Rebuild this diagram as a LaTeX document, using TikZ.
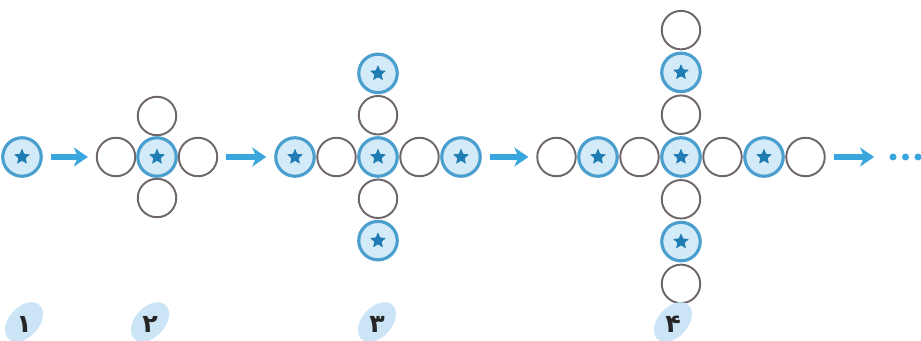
\documentclass[tikz,border=0pt]{standalone}
\usepackage{fontspec}
\newfontfamily\arabicfont[Script=Arabic]{DejaVu Sans}
\usetikzlibrary{arrows.meta}

\definecolor{ringblue}{HTML}{4A9FCF}
\definecolor{ballfill}{HTML}{D3EAF8}
\definecolor{stardark}{HTML}{1F7DB3}
\definecolor{ringgray}{HTML}{6E666A}
\definecolor{arrowblue}{HTML}{3AA6DE}
\definecolor{blobblue}{HTML}{CBE4F6}

\tikzset{
  ball/.style={circle, draw=ringgray, line width=1.1pt, fill=white,
    minimum size=0.77cm, inner sep=0pt},
  starball/.style={ball, draw=ringblue, line width=1.8pt, fill=ballfill,
    path picture={
      \fill[stardark, rounded corners=0.4pt,
        shift={(path picture bounding box.center)}, x=1cm, y=1cm]
        (90:0.17) \foreach \a in {1,...,9}{
          -- ({90+36*\a}:{isodd(\a) ? 0.075 : 0.17})} -- cycle;
    }},
  flow/.style={-{Stealth[length=0.28cm, width=0.38cm, inset=0.08cm]},
    arrowblue, line width=2.9pt, shorten <=4.5pt, shorten >=4.5pt},
  num/.style={font=\arabicfont\bfseries\Large, text=black!85},
  blob/.style={fill=blobblue, rotate=48}
}

\begin{document}
\begin{tikzpicture}[x=0.02cm, y=-0.02cm]
        \useasboundingbox (0,0) rectangle (921,341);

        % Figure 1
        \node[starball] (a0) at (22,157) {};

        % Figure 2
        \node[ball] (b-l) at (116,157) {};
        \node[ball] (b-r) at (198,157) {};
        \node[ball] (b-t) at (157,116) {};
        \node[ball] (b-b) at (157,198) {};
        \node[starball] (b0) at (157,157) {};

        % Figure 3
        \foreach \k/\s in {1/ball,2/starball} {
            \node[\s] (c-l\k) at ({378-41.5*\k},157) {};
            \node[\s] (c-r\k) at ({378+41.5*\k},157) {};
            \node[\s] (c-t\k) at (378,{157-41.8*\k}) {};
            \node[\s] (c-b\k) at (378,{157+41.8*\k}) {};
        }
        \node[starball] (c0) at (378,157) {};

        % Figure 4
        \foreach \k/\s in {1/ball,3/ball,2/starball} {
            \node[\s] (d-l\k) at ({681-41.5*\k},157) {};
            \node[\s] (d-r\k) at ({681+41.5*\k},157) {};
            \node[\s] (d-t\k) at (681,{157-42.3*\k}) {};
            \node[\s] (d-b\k) at (681,{157+42.3*\k}) {};
        }
        \node[starball] (d0) at (681,157) {};

        % Arrows between the steps
        \coordinate (more) at (882,157);
        \draw[flow] (a0) -- (b-l);
        \draw[flow] (b-r) -- (c-l2);
        \draw[flow] (c-r2) -- (d-l3);
        \draw[flow] (d-r3) -- (more);
        \foreach \x in {893,905.5,918}
            \fill[arrowblue] (\x,157) circle (3.5);

        % Step numbers
        \foreach \x/\n/\t in {24/n1/۱, 150/n2/۲, 377/n3/۳, 673/n4/۴} {
            \fill[shift={(\x,322)}, blob] (0,0) ellipse (23 and 15);
            \node[num] (\n) at (\x,324) {\t};
        }
\end{tikzpicture}
\end{document}
